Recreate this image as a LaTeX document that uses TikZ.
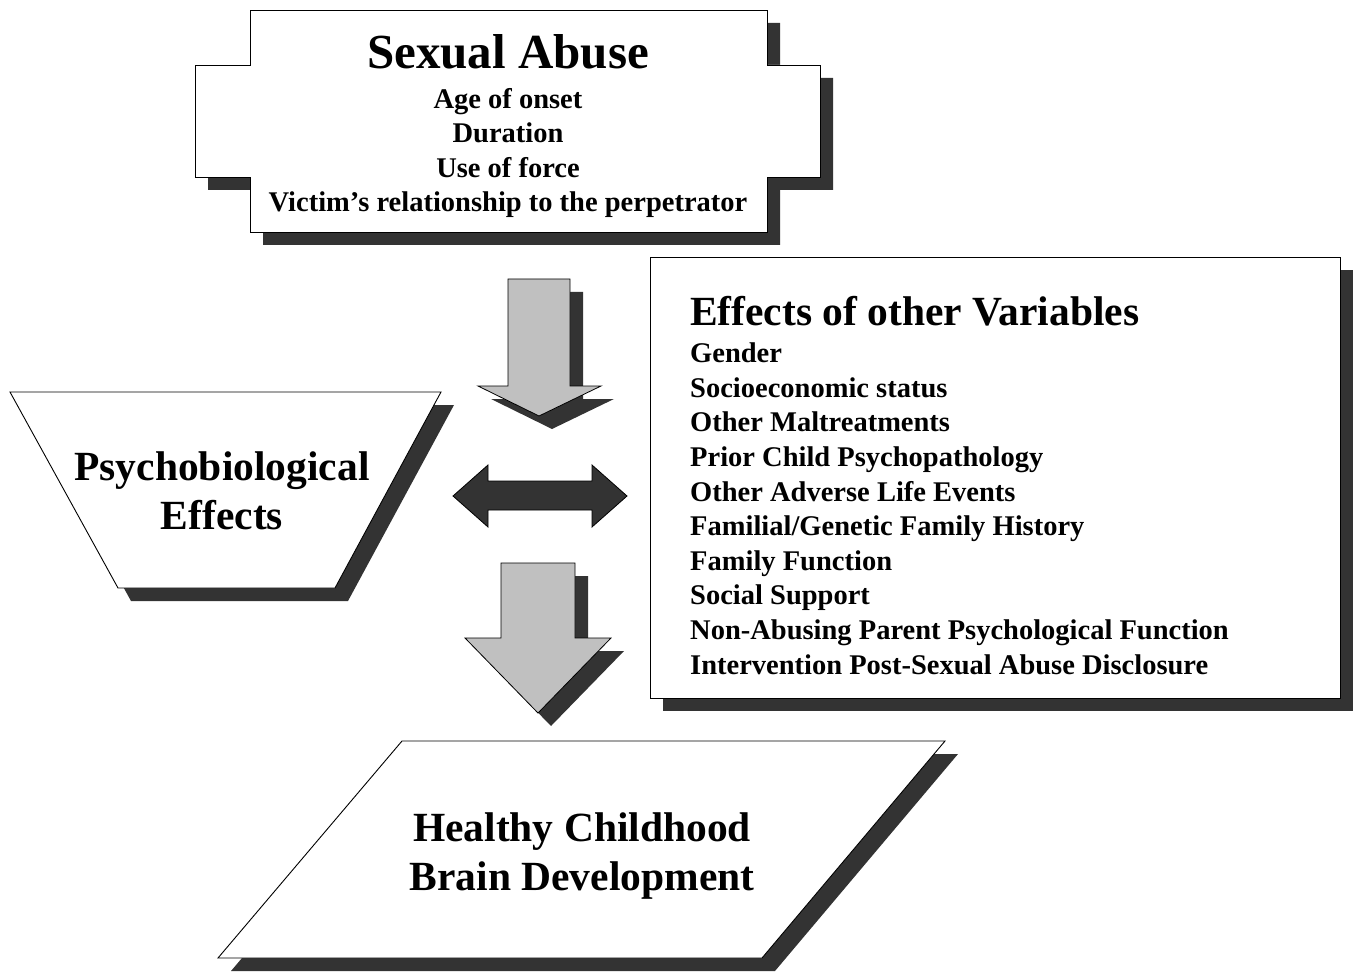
\documentclass[tikz,border=0pt]{standalone}
\usepackage{fontspec}
\setmainfont{Liberation Serif}
\definecolor{shadowc}{HTML}{333333}
\definecolor{arrowc}{HTML}{C0C0C0}
\begin{document}
\begin{tikzpicture}[x=1pt,y=-1pt,
  shad/.style={fill=shadowc,draw=none},
  shapebox/.style={fill=white,draw=black,line width=0.9pt},
  graybox/.style={fill=arrowc,draw=black,line width=0.8pt},
  darkbox/.style={fill=shadowc,draw=black,line width=0.8pt},
  big/.style={font=\fontsize{41.5}{49}\selectfont\bfseries,align=center,inner sep=0pt},
  small/.style={font=\fontsize{28.5}{34.6}\selectfont\bfseries,inner sep=0pt}]
\useasboundingbox (0,0) rectangle (1356,973);
\def\sapath{(250,10) -- (767,10) -- (767,65) -- (820,65) -- (820,177) -- (767,177) -- (767,232) -- (250,232) -- (250,177) -- (195,177) -- (195,65) -- (250,65) -- cycle}
\def\effpath{(650,257) rectangle (1340,698)}
\def\trappath{(10,392) -- (441,392) -- (335,588) -- (118,588) -- cycle}
\def\parpath{(402,741) -- (945,741) -- (762,958) -- (218,958) -- cycle}
\def\downA{(508,279) -- (570,279) -- (570,386) -- (601,386) -- (539,416) -- (478,386) -- (508,386) -- cycle}
\def\downB{(501,563) -- (575,563) -- (575,638) -- (611,638) -- (538,713) -- (465,638) -- (501,638) -- cycle}
% shadows
\begin{scope}[shift={(13,13)}]
  \fill[shad] \sapath;
  \fill[shad] \effpath;
  \fill[shad] \trappath;
  \fill[shad] \parpath;
  \fill[shad] \downA;
  \fill[shad] \downB;
\end{scope}
% shapes
\draw[shapebox] \sapath;
\draw[shapebox] \effpath;
\draw[shapebox] \trappath;
\draw[shapebox] \parpath;
\draw[graybox] \downA;
\draw[graybox] \downB;
\draw[darkbox] (453,496) -- (488,465) -- (488,481) -- (592,481) -- (592,465) -- (627,496) -- (592,527) -- (592,510) -- (488,510) -- (488,527) -- cycle;
% texts
\node[anchor=base,inner sep=0pt,font=\fontsize{49}{52}\selectfont\bfseries] (satitle) at (508,69) {Sexual Abuse};
\node[anchor=base,small,align=center] (salist) at (508,212) {Age of onset\\Duration\\Use of force\\Victim’s relationship to the perpetrator};
\node[anchor=base west,inner sep=0pt,font=\fontsize{41.5}{44}\selectfont\bfseries] (efftitle) at (690,326) {Effects of other Variables};
\node[anchor=base west,small,align=left] (efflist) at (690,674) {Gender\\Socioeconomic status\\Other Maltreatments\\Prior Child Psychopathology\\Other Adverse Life Events\\Familial/Genetic Family History\\Family Function\\Social Support\\Non-Abusing Parent Psychological Function\\Intervention Post-Sexual Abuse Disclosure};
\node[anchor=base,big] (psy) at (222,529) {Psychobiological\\Effects};
\node[anchor=base,big] (hcb) at (582,890) {Healthy Childhood\\Brain Development};
\end{tikzpicture}
\end{document}
